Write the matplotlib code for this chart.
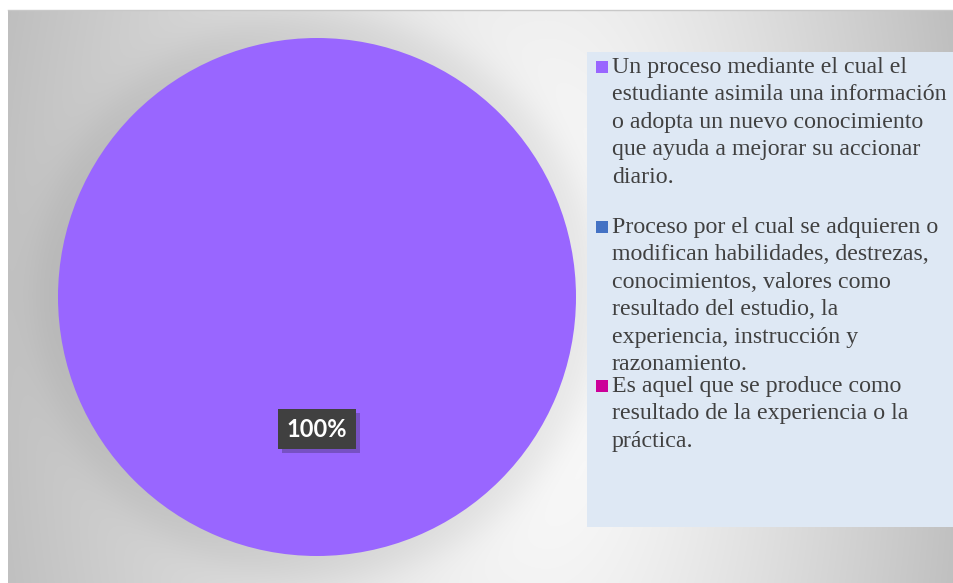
import numpy as np
import matplotlib
matplotlib.use("Agg")
import matplotlib.pyplot as plt
from matplotlib.patches import Rectangle
import matplotlib.patheffects as pe

# ---- data -------------------------------------------------------------
categories = [
    "Un proceso mediante el cual el\nestudiante asimila una información\n"
    "o adopta un nuevo conocimiento\nque ayuda a mejorar su accionar\ndiario.",
    "Proceso por el cual se adquieren o\nmodifican habilidades, destrezas,\n"
    "conocimientos, valores como\nresultado del estudio, la\n"
    "experiencia, instrucción y\nrazonamiento.",
    "Es aquel que se produce como\nresultado de la experiencia o la\npráctica.",
]
values = [100, 0, 0]
colors = ["#9966FF", "#4472C4", "#CC0099"]

# ---- figure in pixel coordinates (y up) -------------------------------
W, H = 954, 583
fig = plt.figure(figsize=(W / 100, H / 100), dpi=100)
ax = fig.add_axes([0, 0, 1, 1])

# chart area background: soft radial gradient with a shadow under the pie
x0, x1, top = 8, 954, 10
xs = np.arange(x0, x1) + 0.5
ys = np.arange(top, H) + 0.5
X, Y = np.meshgrid(xs, ys)
cx, cy = 545.0, 330.0
dx = X - cx
dx = np.where(dx < 0, dx / 540.0, dx / 410.0)
dy = (Y - cy) / 1000.0
t = np.clip(np.sqrt(dx ** 2 + dy ** 2), 0, 1.3)
bg = 1.0 - 0.24 * t ** 1.2

pie_cx, pie_cy_px, pie_r = 317.0, 297.0, 259.0
d = np.sqrt((X - pie_cx) ** 2 + (Y - pie_cy_px) ** 2)
shadow = 1.0 / (1.0 + np.exp((d - pie_r - 22.0) / 11.0))
bg = bg * (1 - 0.09 * shadow)

rgb = np.dstack([bg, bg, bg])
ax.imshow(rgb, extent=(x0, x1, 0, H - top), origin="upper",
          interpolation="bilinear", zorder=0)
ax.plot([x0, x1], [H - top, H - top], color="#c8c8c8", lw=1, zorder=1)

# ---- pie ---------------------------------------------------------------
def pct_label(p):
    return f"{p:.0f}%" if p > 0.5 else ""

wedges, texts, autotexts = ax.pie(
    values, colors=colors, center=(pie_cx, H - pie_cy_px), radius=pie_r,
    startangle=90, counterclock=False, autopct=pct_label, pctdistance=0.51,
    frame=True, wedgeprops=dict(linewidth=0),
)
for w in wedges:
    w.set_zorder(2)
for at in autotexts:
    at.set_fontfamily("Lato")
    at.set_fontweight("bold")
    at.set_fontsize(17)
    at.set_color("white")
    at.set_zorder(4)
    if at.get_text():
        at.set_bbox(dict(boxstyle="square,pad=0.36", facecolor="#404040",
                         edgecolor="none"))
        at.get_bbox_patch().set_path_effects(
            [pe.SimplePatchShadow(offset=(3, -3), alpha=0.25), pe.Normal()])

# ---- legend ------------------------------------------------------------
ax.add_patch(Rectangle((587, H - 527), W - 587, 527 - 52,
                       facecolor="#DEE8F4", edgecolor="none", zorder=1))

entry_baselines = [73, 233, 392]
line_step = 27.4
for label, col, b0 in zip(categories, colors, entry_baselines):
    ax.add_patch(Rectangle((596, H - b0), 12, 12, facecolor=col,
                           edgecolor="none", zorder=3))
    for i, line in enumerate(label.split("\n")):
        ax.text(612, H - (b0 + i * line_step), line,
                fontfamily="Liberation Serif", fontsize=17.2, color="#404040",
                va="baseline", ha="left", zorder=3)

ax.set_xlim(0, W)
ax.set_ylim(0, H)
ax.set_aspect("auto")
ax.axis("off")

fig.savefig("out.png", dpi=100, facecolor="white")
